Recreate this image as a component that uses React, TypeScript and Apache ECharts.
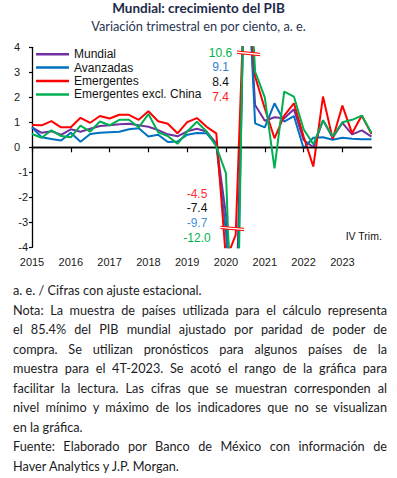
import React, { useEffect, useRef } from "react";
import * as echarts from "echarts";

const years = ["2015", "2016", "2017", "2018", "2019", "2020", "2021", "2022", "2023"];
const quarters = ["I", "II", "III", "IV"];
const categories = years.flatMap((y) => quarters.map((q) => `${q} ${y}`));

const seriesNames = ["Mundial", "Avanzadas", "Emergentes", "Emergentes excl. China"];
const seriesColors = ["#7030A0", "#0070C0", "#FF0000", "#00B050"];

const mundial = [
  0.8, 0.58, 0.64, 0.5, 0.72, 0.62, 0.74, 0.85, 0.88, 0.92, 0.94, 0.88,
  0.82, 0.69, 0.52, 0.44, 0.64, 0.74, 0.63, 0.16, -2.7, -7.4, 8.4, 1.69,
  1.06, 1.2, 1.16, 1.52, 0.29, 0.0, 1.08, 0.38, 0.98, 0.52, 0.68, 0.43,
];
const avanzadas = [
  0.8, 0.4, 0.33, 0.27, 0.58, 0.22, 0.53, 0.58, 0.6, 0.62, 0.72, 0.76,
  0.43, 0.5, 0.21, 0.23, 0.5, 0.57, 0.56, 0.1, -3.4, -9.7, 9.1, 0.96,
  0.8, 1.76, 1.03, 1.25, -0.04, 0.38, 0.4, 0.3, 0.38, 0.34, 0.32, 0.32,
];
const emergentes = [
  0.89, 0.88, 1.05, 0.8, 0.8, 1.18, 0.98, 1.25, 1.15, 1.3, 1.3, 1.1,
  1.44, 1.04, 0.94, 0.56, 1.01, 1.17, 0.82, 0.56, -4.5, -3.5, 7.4, 2.83,
  1.55, 0.36, 1.27, 1.76, 0.43, -0.77, 2.03, 0.33, 1.67, 0.56, 1.27, 0.53,
];
const emergentesExChina = [
  0.53, 0.38, 0.68, 0.45, 0.4, 0.87, 0.63, 1.03, 0.88, 1.1, 1.1, 0.8,
  1.33, 0.6, 0.45, 0.14, 0.63, 1.02, 0.63, 0.03, -1.04, -12.0, 10.6, 3.03,
  2.0, -0.84, 2.23, 2.03, 0.72, 0.12, 1.08, 0.43, 1.0, 1.1, 1.27, 0.57,
];

const yTicks = [-4, -3, -2, -1, 0, 1, 2, 3, 4];

const noteLines: { text: string; justify: boolean }[] = [
  { text: "a. e. / Cifras con ajuste estacional.", justify: false },
  { text: "Nota: La muestra de países utilizada para el cálculo representa", justify: true },
  { text: "el 85.4% del PIB mundial ajustado por paridad de poder de", justify: true },
  { text: "compra. Se utilizan pronósticos para algunos países de la", justify: true },
  { text: "muestra para el 4T-2023. Se acotó el rango de la gráfica para", justify: true },
  { text: "facilitar la lectura. Las cifras que se muestran corresponden al", justify: true },
  { text: "nivel mínimo y máximo de los indicadores que no se visualizan", justify: true },
  { text: "en la gráfica.", justify: false },
  { text: "Fuente: Elaborado por Banco de México con información de", justify: true },
  { text: "Haver Analytics y J.P. Morgan.", justify: false },
];

const AXIS_FONT = "'Liberation Sans', Arial, sans-serif";
const TITLE_FONT = "Lato, 'Open Sans', sans-serif";

export default function App() {
  const ref = useRef<HTMLDivElement>(null);

  useEffect(() => {
    if (!ref.current) return;
    const chart = echarts.init(ref.current, null, { renderer: "svg" });
    const all = [mundial, avanzadas, emergentes, emergentesExChina];

    const maxItems = [
      { v: Math.max(...emergentesExChina), c: "#00B050" },
      { v: Math.max(...avanzadas), c: "#2F7FD0" },
      { v: Math.max(...mundial), c: "#111111" },
      { v: Math.max(...emergentes), c: "#FF2020" },
    ];
    const minItems = [
      { v: Math.min(...emergentes), c: "#FF3030" },
      { v: Math.min(...mundial), c: "#111111" },
      { v: Math.min(...avanzadas), c: "#4A8FD8" },
      { v: Math.min(...emergentesExChina), c: "#00B050" },
    ];

    const annotations: any[] = [];
    maxItems.forEach((m, i) => {
      annotations.push({
        type: "text",
        x: 220.5,
        y: 52.5 + i * 14.7,
        z: 100,
        style: {
          text: m.v.toFixed(1),
          fill: m.c,
          font: `12px ${AXIS_FONT}`,
          textAlign: "center",
          textVerticalAlign: "middle",
        },
      });
    });
    minItems.forEach((m, i) => {
      annotations.push({
        type: "text",
        x: 197,
        y: 193.5 + i * 14.8,
        z: 100,
        style: {
          text: m.v.toFixed(1),
          fill: m.c,
          font: `12px ${AXIS_FONT}`,
          textAlign: "center",
          textVerticalAlign: "middle",
        },
      });
    });

    const breakMark = (x1: number, y1: number, x2: number, y2: number, gap: number) => [
      {
        type: "polygon",
        z: 100,
        shape: { points: [[x1, y1], [x2, y2], [x2, y2 + gap], [x1, y1 + gap]] },
        style: { fill: "#ffffff", stroke: "none" },
      },
      {
        type: "line",
        z: 101,
        shape: { x1, y1, x2, y2 },
        style: { stroke: "#FF0000", lineWidth: 1 },
      },
      {
        type: "line",
        z: 101,
        shape: { x1, y1: y1 + gap, x2, y2: y2 + gap },
        style: { stroke: "#FF0000", lineWidth: 1 },
      },
    ];

    chart.setOption({
      animation: false,
      backgroundColor: "#ffffff",
      title: {
        text: "Mundial: crecimiento del PIB",
        subtext: "Variación trimestral en por ciento, a. e.",
        left: "center",
        top: 0,
        padding: 0,
        itemGap: 3,
        textStyle: {
          fontFamily: TITLE_FONT,
          fontWeight: "bold",
          fontSize: 13.5,
          lineHeight: 15,
          color: "#1d2a48",
        },
        subtextStyle: {
          fontFamily: TITLE_FONT,
          fontSize: 12.8,
          lineHeight: 15,
          color: "#2a3552",
        },
      },
      legend: {
        orient: "vertical",
        left: 36,
        top: 47.5,
        padding: 0,
        itemWidth: 33,
        itemHeight: 2.5,
        itemGap: 0,
        icon: "rect",
        data: seriesNames,
        textStyle: {
          fontFamily: AXIS_FONT,
          fontSize: 12,
          lineHeight: 13.4,
          color: "#111111",
        },
      },
      grid: { left: 32, right: 25.5, top: 47.3, height: 200, containLabel: false },
      xAxis: {
        type: "category",
        data: categories,
        boundaryGap: false,
        axisLine: { lineStyle: { color: "#000000", width: 1.3 } },
        axisTick: { show: true, interval: 3, length: 5, lineStyle: { color: "#000000", width: 1.2 } },
        axisLabel: {
          interval: 3,
          margin: 9,
          fontFamily: AXIS_FONT,
          fontSize: 11,
          color: "#1a1a1a",
          formatter: (v: string) => v.split(" ")[1],
        },
        splitLine: { show: false },
      },
      yAxis: {
        type: "value",
        min: yTicks[0],
        max: yTicks[yTicks.length - 1],
        interval: 1,
        axisLine: { show: true, lineStyle: { color: "#000000", width: 1.3 } },
        axisTick: { show: true, length: 3, lineStyle: { color: "#000000", width: 1.2 } },
        splitLine: { show: false },
        axisLabel: {
          margin: 4,
          align: "right",
          fontFamily: AXIS_FONT,
          fontSize: 11,
          color: "#1a1a1a",
          formatter: (v: number) => (v >= 0 ? `{p|${v}}` : `{n|${v}}`),
          rich: {
            p: { width: 14, align: "left", fontFamily: AXIS_FONT, fontSize: 11, color: "#1a1a1a" },
            n: { width: 14, align: "right", fontFamily: AXIS_FONT, fontSize: 11, color: "#1a1a1a" },
          },
        },
      },
      series: all.map((d, i) => ({
        name: seriesNames[i],
        type: "line",
        data: d,
        showSymbol: false,
        symbol: "none",
        clip: true,
        z: 2 + i,
        lineStyle: { color: seriesColors[i], width: 2 },
        itemStyle: { color: seriesColors[i] },
        markLine:
          i === 0
            ? {
                silent: true,
                symbol: "none",
                label: { show: false },
                lineStyle: { color: "#000000", width: 1.4, type: "solid" },
                data: [{ yAxis: 0 }],
              }
            : undefined,
      })),
      graphic: [
        ...breakMark(237, 51, 260, 53.3, 2.4),
        ...breakMark(220.5, 226.3, 244, 228.3, 2.3),
        ...annotations,
        {
          type: "text",
          right: 15,
          top: 230,
          z: 100,
          style: {
            text: "IV Trim.",
            fill: "#111111",
            font: `10.5px ${AXIS_FONT}`,
          },
        },
      ],
    });

    return () => chart.dispose();
  }, []);

  return (
    <div style={{ position: "absolute", left: 0, top: 0, width: 397, height: 478, background: "#fff" }}>
      <div ref={ref} style={{ position: "absolute", left: 0, top: 0, width: 397, height: 280 }} />
      <div
        style={{
          position: "absolute",
          left: 13,
          top: 281.3,
          width: 374,
          fontFamily: TITLE_FONT,
          fontSize: 12.7,
          lineHeight: "19.5px",
          color: "#1c1c24",
        }}
      >
        {noteLines.map((l, i) => (
          <div
            key={i}
            style={{
              whiteSpace: "nowrap",
              textAlign: l.justify ? "justify" : "left",
              textAlignLast: l.justify ? "justify" : "left",
            }}
          >
            {l.text}
          </div>
        ))}
      </div>
    </div>
  );
}
